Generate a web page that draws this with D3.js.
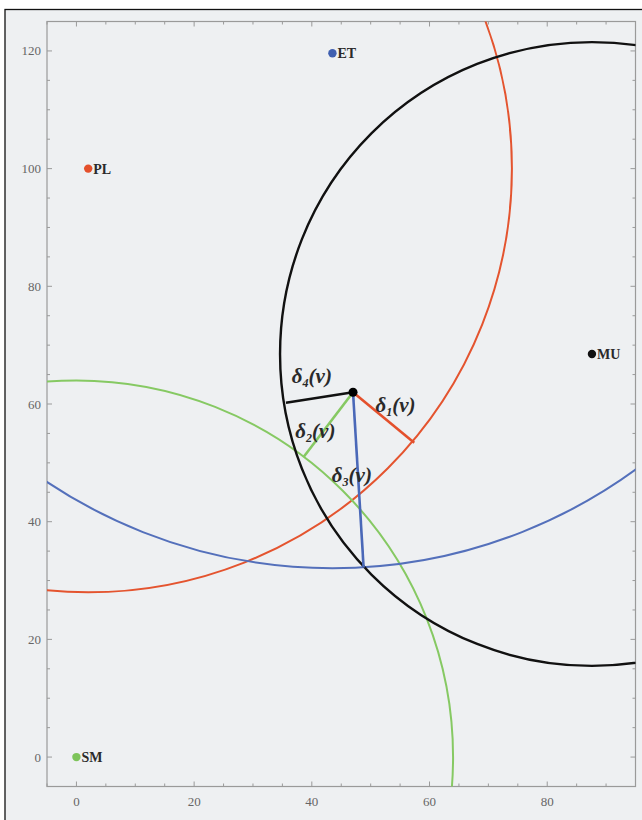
<!DOCTYPE html>
<html>
<head>
<meta charset="utf-8">
<script src="https://cdn.jsdelivr.net/npm/d3@7/dist/d3.min.js"></script>
<style>
  html, body { margin: 0; padding: 0; background: #ffffff; }
  svg { display: block; }
</style>
</head>
<body>
<svg id="chart" width="642" height="820"></svg>
<script>
// Reference stations and their colours
const stations = ["PL", "SM", "ET", "MU"];
const stationX = [2, 0, 43.5, 87.6];
const stationY = [100, 0, 119.6, 68.5];
const stationColor = ["#e4502c", "#7dc45a", "#3f5fb0", "#111111"];
const ringColor = ["#e4542f", "#86c963", "#5470bb", "#111111"];
// Radius of each station's circle
const radii = [72, 64, 87.5, 53];

// The estimated point v
const vPoint = [47, 62];

// Foot points of the distance segments on each circle (δ1..δ4)
const footX = [57.4, 38.6, 48.8, 35.6];
const footY = [53.4, 51.0, 32.2, 60.2];
const segColor = ["#e4502c", "#86c963", "#4a68b8", "#111111"];

// Segment labels positions
const labelIdx = ["1", "2", "3", "4"];
const labelX = [50.8, 37.2, 43.4, 36.6];
const labelY = [58.6, 54.3, 46.8, 63.5];

// Axis ticks
const xTicks = [0, 20, 40, 60, 80];
const yTicks = [0, 20, 40, 60, 80, 100, 120];
const xDomain = [-5, 95];
const yDomain = [-5, 125];

(function () {
const svg = d3.select("#chart");

// outer panel
svg.append("rect")
  .attr("x", 5).attr("y", 9.5).attr("width", 660).attr("height", 840)
  .attr("fill", "#eef0f2").attr("stroke", "#111").attr("stroke-width", 1.3);

const pLeft = 47, pRight = 635.5, pTop = 21.5, pBottom = 786.5;
const x = d3.scaleLinear().domain(xDomain).range([pLeft, pRight]);
const y = d3.scaleLinear().domain(yDomain).range([pBottom, pTop]);
const pxPerUnit = x(1) - x(0);

svg.append("clipPath").attr("id", "plotClip")
  .append("rect").attr("x", pLeft).attr("y", pTop)
  .attr("width", pRight - pLeft).attr("height", pBottom - pTop);

// frame
svg.append("rect")
  .attr("x", pLeft).attr("y", pTop).attr("width", pRight - pLeft).attr("height", pBottom - pTop)
  .attr("fill", "none").attr("stroke", "#9a9a9a").attr("stroke-width", 1.2);

// inward ticks on all four sides
const minorX = d3.range(-5, 96, 5);
const minorY = d3.range(-5, 126, 5);
const tickG = svg.append("g").attr("stroke", "#9a9a9a").attr("stroke-width", 1);
minorX.forEach(v => {
  const len = v % 20 === 0 ? 5 : 3;
  tickG.append("line").attr("x1", x(v)).attr("x2", x(v)).attr("y1", pBottom).attr("y2", pBottom - len);
  tickG.append("line").attr("x1", x(v)).attr("x2", x(v)).attr("y1", pTop).attr("y2", pTop + len);
});
minorY.forEach(v => {
  const len = v % 20 === 0 ? 5 : 3;
  tickG.append("line").attr("y1", y(v)).attr("y2", y(v)).attr("x1", pLeft).attr("x2", pLeft + len);
  tickG.append("line").attr("y1", y(v)).attr("y2", y(v)).attr("x1", pRight).attr("x2", pRight - len);
});

// tick labels
const serif = "'Liberation Serif', 'DejaVu Serif', serif";
svg.append("g").selectAll("text").data(xTicks).join("text")
  .attr("x", d => x(d)).attr("y", 806)
  .attr("text-anchor", "middle")
  .attr("font-family", serif).attr("font-size", 13).attr("fill", "#666")
  .text(d => d);
svg.append("g").selectAll("text").data(yTicks).join("text")
  .attr("x", 41).attr("y", d => y(d) + 4.5)
  .attr("text-anchor", "end")
  .attr("font-family", serif).attr("font-size", 13).attr("fill", "#666")
  .text(d => d);

const plot = svg.append("g").attr("clip-path", "url(#plotClip)");

// station circles
plot.selectAll("circle.ring").data(stations).join("circle")
  .attr("class", "ring")
  .attr("cx", (d, i) => x(stationX[i]))
  .attr("cy", (d, i) => y(stationY[i]))
  .attr("r", (d, i) => radii[i] * pxPerUnit)
  .attr("fill", "none")
  .attr("stroke", (d, i) => ringColor[i])
  .attr("stroke-width", (d, i) => i === 3 ? 2.4 : 2);

// distance segments from v to each circle
plot.selectAll("line.seg").data(footX).join("line")
  .attr("class", "seg")
  .attr("x1", x(vPoint[0])).attr("y1", y(vPoint[1]))
  .attr("x2", (d, i) => x(footX[i])).attr("y2", (d, i) => y(footY[i]))
  .attr("stroke", (d, i) => segColor[i])
  .attr("stroke-width", 2.6);

// station points and labels
plot.selectAll("circle.stn").data(stations).join("circle")
  .attr("class", "stn")
  .attr("cx", (d, i) => x(stationX[i]))
  .attr("cy", (d, i) => y(stationY[i]))
  .attr("r", 4.2)
  .attr("fill", (d, i) => stationColor[i]);
plot.selectAll("text.stn").data(stations).join("text")
  .attr("class", "stn")
  .attr("x", (d, i) => x(stationX[i]) + 5)
  .attr("y", (d, i) => y(stationY[i]) + 5)
  .attr("font-family", serif).attr("font-weight", "bold")
  .attr("font-size", 14).attr("fill", "#2a2a2a")
  .text(d => d);

// point v
plot.append("circle")
  .attr("cx", x(vPoint[0])).attr("cy", y(vPoint[1]))
  .attr("r", 4.5).attr("fill", "#000");

// segment labels δi(v)
const lab = plot.selectAll("text.delta").data(labelIdx).join("text")
  .attr("class", "delta")
  .attr("x", (d, i) => x(labelX[i]))
  .attr("y", (d, i) => y(labelY[i]))
  .attr("font-family", serif).attr("font-weight", "bold")
  .attr("font-style", "italic").attr("font-size", 21).attr("fill", "#2a2a2a");
lab.append("tspan").text("δ");
lab.append("tspan").attr("font-size", 12).attr("dy", 4).text(d => d);
lab.append("tspan").attr("dy", -4).text("(v)");
})();
</script>
</body>
</html>
